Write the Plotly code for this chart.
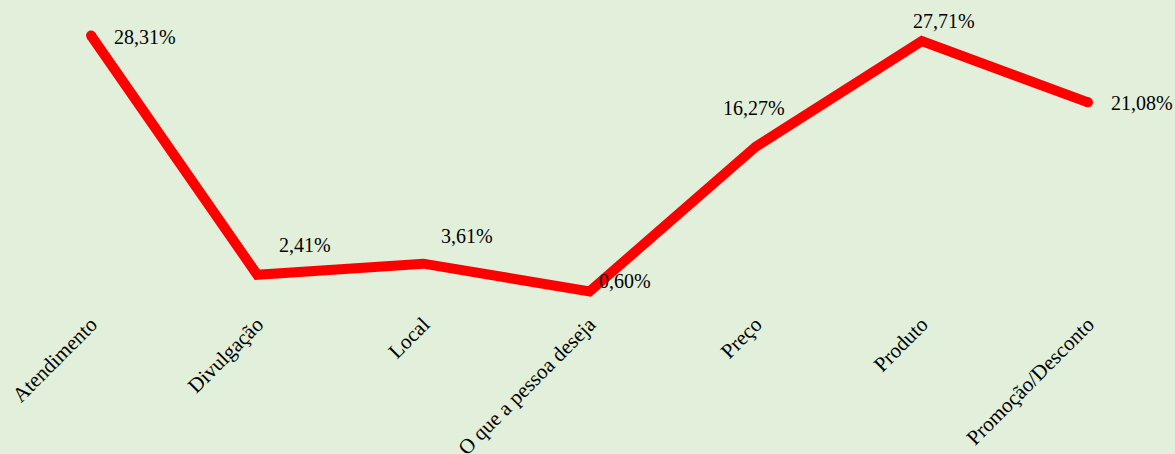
import plotly.graph_objects as go

categories = ["Atendimento", "Divulgação", "Local", "O que a pessoa deseja",
              "Preço", "Produto", "Promoção/Desconto"]
values = [28.31, 2.41, 3.61, 0.60, 16.27, 27.71, 21.08]
labels = ["28,31%", "2,41%", "3,61%", "0,60%", "16,27%", "27,71%", "21,08%"]

# label placement offsets (pixels)
label_pos = [
    dict(xanchor="left", yanchor="middle", xshift=21, yshift=-1),
    dict(xanchor="left", yanchor="bottom", xshift=20, yshift=17),
    dict(xanchor="left", yanchor="bottom", xshift=16, yshift=15),
    dict(xanchor="left", yanchor="bottom", xshift=7, yshift=-3),
    dict(xanchor="center", yanchor="bottom", xshift=-2, yshift=26),
    dict(xanchor="center", yanchor="bottom", xshift=22, yshift=7),
    dict(xanchor="left", yanchor="middle", xshift=21, yshift=-1),
]

BG = "#E2EFDA"
FONT = "Liberation Serif, Times New Roman, serif"

fig = go.Figure()
fig.add_trace(go.Scatter(
    x=categories, y=values, mode="lines+markers",
    line=dict(color="#FF0000", width=10),
    marker=dict(color="#FF0000", size=[10, 0, 0, 0, 0, 0, 10], opacity=1,
                line=dict(width=0)),
    hoverinfo="skip", showlegend=False,
))

for c, v, t, p in zip(categories, values, labels, label_pos):
    fig.add_annotation(x=c, y=v, text=t, showarrow=False,
                       font=dict(family=FONT, size=20, color="#000000"), **p)

fig.update_layout(
    width=1175, height=454,
    margin=dict(l=8, r=4, t=20, b=157),
    paper_bgcolor=BG, plot_bgcolor=BG,
    font=dict(family=FONT, size=20, color="#000000"),
)
fig.update_xaxes(range=[-0.5, 6.5], showgrid=False, showline=False, zeroline=False,
                 tickangle=-45, ticks="", ticklabelstandoff=10, automargin=False,
                 tickfont=dict(family=FONT, size=21))
fig.update_yaxes(range=[0, 30], visible=False, showgrid=False, zeroline=False,
                 automargin=False)

fig.write_html("out.html", config={"displayModeBar": False})

with open("out.html", "r", encoding="utf-8") as f:
    html = f.read()
html = html.replace("<body>", '<body style="margin:0;padding:0;background:%s">' % BG, 1)
with open("out.html", "w", encoding="utf-8") as f:
    f.write(html)
